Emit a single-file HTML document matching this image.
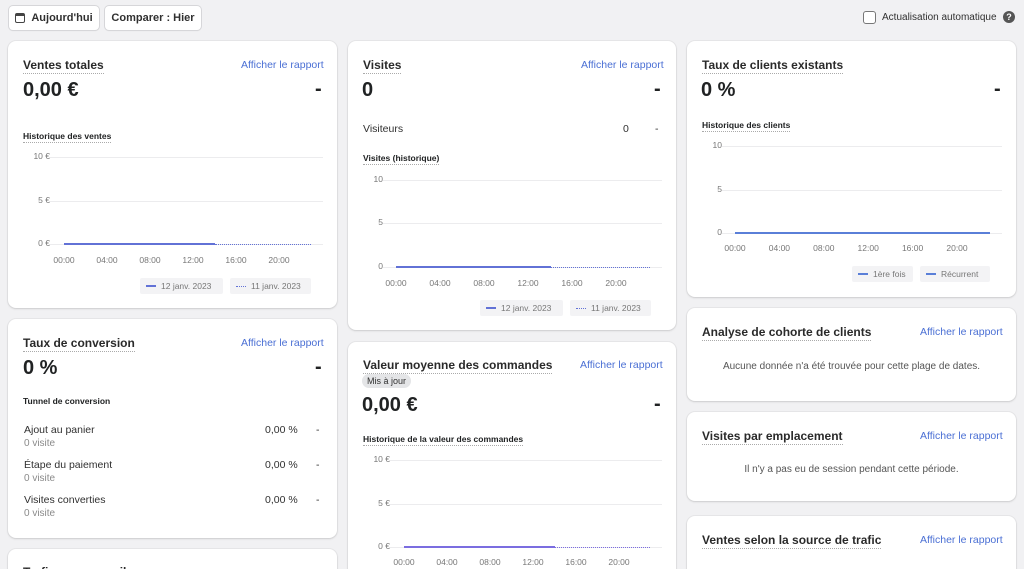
<!DOCTYPE html>
<html style="width:1024px;height:569px;overflow:hidden"><head><meta charset="utf-8">
<style>
*{margin:0;padding:0;box-sizing:border-box}
body{width:1024px;height:569px;overflow:hidden;background:#f1f1f3;font-family:"Liberation Sans",sans-serif;color:#202223;position:relative}
.a{position:absolute;white-space:nowrap}
.card{position:absolute;background:#fff;border-radius:8px;box-shadow:0 0 0 1px rgba(0,0,0,.04),0 1px 2px rgba(0,0,0,.12)}
.btn{position:absolute;background:#fff;border-radius:4px;box-shadow:0 0 0 1px #d6d6d9,0 1px 1px rgba(0,0,0,.1);font-size:11px;font-weight:bold;color:#303030;display:flex;align-items:center;justify-content:center}
.t{font-size:12px;font-weight:bold;color:#2a2a2a;border-bottom:1px dotted #aaa;padding-bottom:1px}
.lk{font-size:10.5px;color:#4a6fd4}
.big{font-size:20px;font-weight:bold;color:#202223}
.dash{font-size:20px;font-weight:bold}
.st{font-size:8.5px;font-weight:bold;border-bottom:1px dotted #aaa;padding-bottom:1px}
.yl{font-size:8.5px;color:#777;text-align:right;width:30px}
.xl{font-size:8.5px;color:#777;width:40px;text-align:center}
.g{position:absolute;height:1px;background:#ececee}
.leg{position:absolute;background:#f3f3f5;border-radius:2px;font-size:8.5px;color:#777;display:flex;align-items:center;padding-left:6px;height:16px}
.sm{font-size:10.5px;color:#303030}
.gr{font-size:10px;color:#8a8a8a}
</style></head><body>
<div class="btn" style="left:9px;top:6px;width:90px;height:24px"><span style="display:inline-block;width:10px;height:10px;border:1.5px solid #444;border-top-width:3px;border-radius:2px;margin-right:6px"></span>Aujourd'hui</div>
<div class="btn" style="left:105px;top:6px;width:96px;height:24px">Comparer : Hier</div>
<div class="a" style="left:863px;top:11px;width:13px;height:13px;border:1.5px solid #777;border-radius:3px;background:#fff"></div>
<div class="a" style="left:882px;top:12px;font-size:10px;color:#303030">Actualisation automatique</div>
<div class="a" style="left:1003px;top:11px;width:12px;height:12px;border-radius:50%;background:#555;color:#fff;font-size:9px;font-weight:bold;text-align:center;line-height:12px">?</div>

<!-- col1 -->
<div class="card" style="left:8px;top:41px;width:329px;height:267px"></div>
<div class="a t" style="left:23px;top:58px">Ventes totales</div>
<div class="a lk" style="left:241px;top:59px">Afficher le rapport</div>
<div class="a big" style="left:23px;top:79px">0,00 €</div>
<div class="a dash" style="left:315px;top:78px">-</div>
<div class="a st" style="left:23px;top:131px">Historique des ventes</div>
<div id="c1"></div>

<div class="card" style="left:8px;top:319px;width:329px;height:219px"></div>
<div class="a t" style="left:23px;top:336px">Taux de conversion</div>
<div class="a lk" style="left:241px;top:337px">Afficher le rapport</div>
<div class="a big" style="left:23px;top:357px">0 %</div>
<div class="a dash" style="left:315px;top:356px">-</div>
<div class="a" style="left:23px;top:396px;font-size:8.5px;font-weight:bold">Tunnel de conversion</div>
<div class="a sm" style="left:24px;top:424px">Ajout au panier</div><div class="a gr" style="left:24px;top:438px">0 visite</div>
<div class="a sm" style="left:24px;top:459px">Étape du paiement</div><div class="a gr" style="left:24px;top:473px">0 visite</div>
<div class="a sm" style="left:24px;top:494px">Visites converties</div><div class="a gr" style="left:24px;top:508px">0 visite</div>
<div class="a sm" style="left:265px;top:424px">0,00 %</div><div class="a sm" style="left:316px;top:424px">-</div>
<div class="a sm" style="left:265px;top:459px">0,00 %</div><div class="a sm" style="left:316px;top:459px">-</div>
<div class="a sm" style="left:265px;top:494px">0,00 %</div><div class="a sm" style="left:316px;top:494px">-</div>
<div class="card" style="left:8px;top:549px;width:329px;height:40px"></div>
<div class="a t" style="left:23px;top:565px">Trafic par appareil</div>

<!-- col2 -->
<div class="card" style="left:348px;top:41px;width:328px;height:289px"></div>
<div class="a t" style="left:363px;top:58px">Visites</div>
<div class="a lk" style="left:581px;top:59px">Afficher le rapport</div>
<div class="a big" style="left:362px;top:79px">0</div>
<div class="a dash" style="left:654px;top:78px">-</div>
<div class="a sm" style="left:363px;top:123px">Visiteurs</div>
<div class="a sm" style="left:623px;top:123px">0</div><div class="a sm" style="left:655px;top:123px">-</div>
<div class="a st" style="left:363px;top:153px">Visites (historique)</div>
<div id="c2"></div>

<div class="card" style="left:348px;top:342px;width:328px;height:240px"></div>
<div class="a t" style="left:363px;top:358px">Valeur moyenne des commandes</div>
<div class="a lk" style="left:580px;top:359px">Afficher le rapport</div>
<div class="a" style="left:362px;top:374px;background:#e4e5e7;border-radius:8px;font-size:9px;padding:2px 5px;color:#303030">Mis à jour</div>
<div class="a big" style="left:362px;top:394px">0,00 €</div>
<div class="a dash" style="left:654px;top:393px">-</div>
<div class="a st" style="left:363px;top:434px">Historique de la valeur des commandes</div>
<div id="c3"></div>

<!-- col3 -->
<div class="card" style="left:687px;top:41px;width:329px;height:256px"></div>
<div class="a t" style="left:702px;top:58px">Taux de clients existants</div>
<div class="a big" style="left:701px;top:79px">0 %</div>
<div class="a dash" style="left:994px;top:78px">-</div>
<div class="a st" style="left:702px;top:120px">Historique des clients</div>
<div id="c4"></div>

<div class="card" style="left:687px;top:308px;width:329px;height:93px"></div>
<div class="a t" style="left:702px;top:325px">Analyse de cohorte de clients</div>
<div class="a lk" style="left:920px;top:326px">Afficher le rapport</div>
<div class="a" style="left:687px;width:329px;text-align:center;top:361px;font-size:10px;color:#555">Aucune donnée n'a été trouvée pour cette plage de dates.</div>

<div class="card" style="left:687px;top:412px;width:329px;height:89px"></div>
<div class="a t" style="left:702px;top:429px">Visites par emplacement</div>
<div class="a lk" style="left:920px;top:430px">Afficher le rapport</div>
<div class="a" style="left:687px;width:329px;text-align:center;top:464px;font-size:10px;color:#555">Il n'y a pas eu de session pendant cette période.</div>

<div class="card" style="left:687px;top:516px;width:329px;height:70px"></div>
<div class="a t" style="left:702px;top:533px">Ventes selon la source de trafic</div>
<div class="a lk" style="left:920px;top:534px">Afficher le rapport</div>

<script>
function chart(id,o){
 var h='';
 var labs=o.y;
 for(var i=0;i<3;i++){
  var y=o.ys[i];
  h+='<div class="g" style="left:'+o.gl+'px;top:'+y+'px;width:'+(o.gr-o.gl)+'px"></div>';
  h+='<div class="a yl" style="left:'+(o.lx-30)+'px;top:'+(y-6)+'px;background:#fff;padding-left:2px">'+labs[i]+'</div>';
 }
 var y0=o.ys[2];
 h+='<div class="a" style="left:'+o.x0+'px;top:'+(y0-1)+'px;width:'+(o.xs-o.x0)+'px;height:2px;background:'+o.c+'"></div>';
 if(o.xe>o.xs) h+='<div class="a" style="left:'+o.xs+'px;top:'+y0+'px;width:'+(o.xe-o.xs)+'px;border-top:1px dotted '+o.c+'"></div>';
 var t=['00:00','04:00','08:00','12:00','16:00','20:00'];
 for(var k=0;k<6;k++) h+='<div class="a xl" style="left:'+(o.x0+k*o.dx-20)+'px;top:'+o.xy+'px">'+t[k]+'</div>';
 for(var j=0;j<o.leg.length;j++){var L=o.leg[j];
  h+='<div class="leg" style="left:'+L[0]+'px;top:'+o.ly+'px;width:'+L[1]+'px"><span style="display:inline-block;width:10px;margin-right:5px;border-top:'+(L[3]?'1px dotted':'2px solid')+' '+o.c+'"></span>'+L[2]+'</div>';}
 document.getElementById(id).innerHTML=h;
}
var b='#6272d6';
chart('c1',{y:['10 €','5 €','0 €'],ys:[157,201,244],gl:22,gr:323,lx:50,x0:64,xs:215,xe:311,dx:43,xy:255,c:b,ly:278,leg:[[140,83,'12 janv. 2023'],[230,81,'11 janv. 2023',1]]});
chart('c2',{y:['10','5','0'],ys:[180,223,267],gl:362,gr:662,lx:383,x0:396,xs:551,xe:650,dx:44,xy:278,c:b,ly:300,leg:[[480,83,'12 janv. 2023'],[570,81,'11 janv. 2023',1]]});
chart('c3',{y:['10 €','5 €','0 €'],ys:[460,504,547],gl:362,gr:662,lx:390,x0:404,xs:555,xe:650,dx:43,xy:557,c:'#7b6de0',ly:600,leg:[]});
chart('c4',{y:['10','5','0'],ys:[146,190,233],gl:701,gr:1002,lx:722,x0:735,xs:990,xe:990,dx:44.4,xy:243,c:'#5a7fd8',ly:266,leg:[[852,61,'1ère fois'],[920,70,'Récurrent']]});
</script>
</body></html>
